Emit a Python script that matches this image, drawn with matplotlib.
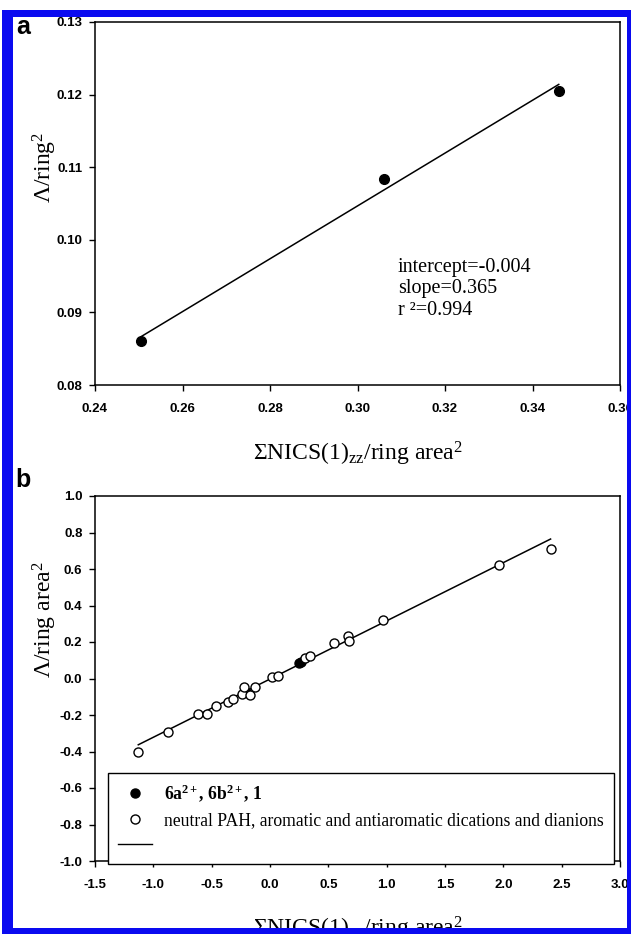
import matplotlib
matplotlib.use("Agg")
import matplotlib.pyplot as plt
import numpy as np
from matplotlib.patches import Rectangle
from matplotlib.lines import Line2D

W, H = 631, 934

# panel a data
a_x = [0.2505, 0.3060, 0.3460]
a_y = [0.0860, 0.1084, 0.1205]
a_xticks = [0.24, 0.26, 0.28, 0.30, 0.32, 0.34, 0.36]
a_yticks = [0.08, 0.09, 0.10, 0.11, 0.12, 0.13]
a_fit_text = ["intercept=-0.004", "slope=0.365", "r \u00b2=0.994"]

# panel b data
b_open_x = [-1.129, -0.872, -0.615, -0.543, -0.463, -0.358, -0.320, -0.238,
            -0.220, -0.169, -0.127, 0.018, 0.071, 0.300, 0.342, 0.548,
            0.671, 0.679, 0.971, 1.965, 2.405]
b_open_y = [-0.405, -0.295, -0.196, -0.193, -0.152, -0.129, -0.112, -0.085,
            -0.048, -0.090, -0.046, 0.009, 0.015, 0.111, 0.125, 0.193,
            0.233, 0.205, 0.321, 0.622, 0.708]
b_fill_x = [0.245, 0.262, -0.205]
b_fill_y = [0.086, 0.093, -0.072]
b_slope, b_intercept = 0.319, -0.003
b_xticks = [-1.5, -1.0, -0.5, 0.0, 0.5, 1.0, 1.5, 2.0, 2.5, 3.0]
b_yticks = [-1.0, -0.8, -0.6, -0.4, -0.2, 0.0, 0.2, 0.4, 0.6, 0.8, 1.0]
legend_labels = [r'$\mathbf{6a}^{\mathbf{2+}}$, $\mathbf{6b}^{\mathbf{2+}}$, 1',
                 'neutral PAH, aromatic and antiaromatic dications and dianions',
                 '']

plt.rcParams['font.family'] = ['Liberation Sans', 'DejaVu Sans']
plt.rcParams['axes.unicode_minus'] = False
plt.rcParams['mathtext.fontset'] = 'custom'
plt.rcParams['mathtext.rm'] = 'Liberation Serif'
plt.rcParams['mathtext.it'] = 'Liberation Serif:italic'
plt.rcParams['mathtext.bf'] = 'Liberation Serif:bold'
SERIF = ['Liberation Serif', 'DejaVu Serif']


def px_box(x0, y0, x1, y1):
    # pixel box (top-left origin) -> figure fraction [left, bottom, w, h]
    return [x0 / W, 1 - y1 / H, (x1 - x0) / W, (y1 - y0) / H]


def style_axes(ax):
    for sp in ax.spines.values():
        sp.set_linewidth(1.1)
    ax.tick_params(direction='out', length=4, width=1, labelsize=9.5)
    ax.tick_params(axis='x', pad=9)
    ax.tick_params(axis='y', pad=5)


fig = plt.figure(figsize=(W / 100, H / 100), dpi=100)

# ---- panel a ----
ax_a = fig.add_axes(px_box(95, 22, 620, 385))
slope_a, icpt_a = np.polyfit(a_x, a_y, 1)
xx = np.array([min(a_x), max(a_x)])
ax_a.plot(xx, icpt_a + slope_a * xx, color='k', lw=1.1, zorder=2)
ax_a.plot(a_x, a_y, 'o', color='k', ms=7, zorder=3)
ax_a.set_xlim(0.24, 0.36)
ax_a.set_ylim(0.08, 0.13)
ax_a.set_xticks(a_xticks, [f'{t:.2f}' for t in a_xticks], fontweight='bold')
ax_a.set_yticks(a_yticks, [f'{t:.2f}' for t in a_yticks], fontweight='bold')
style_axes(ax_a)
ax_a.set_xlabel('\u03a3NICS(1)$_{\\mathrm{zz}}$/ring area$^{2}$', family=SERIF, fontsize=17)
ax_a.xaxis.set_label_coords(0.5, -0.15)
ax_a.set_ylabel('\u039b/ring$^{2}$', family=SERIF, fontsize=17, va='center')
ax_a.yaxis.set_label_coords(-0.095, 0.6)
ax_a.text(0.577, 0.2645, '\n'.join(a_fit_text), transform=ax_a.transAxes,
          family=SERIF, fontsize=14.5, va='center', ha='left', linespacing=1.2)

# ---- panel b ----
ax_b = fig.add_axes(px_box(95, 496, 620, 861))
lx = np.array([min(b_open_x), max(b_open_x)])
ax_b.plot(lx, b_intercept + b_slope * lx, color='k', lw=1.1, zorder=2)
ax_b.plot(b_fill_x, b_fill_y, 'o', mfc='k', mec='k', ms=6.5, zorder=2.5)
ax_b.plot(b_open_x, b_open_y, 'o', mfc='white', mec='k', mew=1, ms=6.5, zorder=3)
ax_b.set_xlim(-1.5, 3.0)
ax_b.set_ylim(-1.0, 1.0)
ax_b.set_xticks(b_xticks, [f'{t:.1f}' for t in b_xticks], fontweight='bold')
ax_b.set_yticks(b_yticks, [f'{t:.1f}' for t in b_yticks], fontweight='bold')
style_axes(ax_b)
ax_b.set_xlabel('\u03a3NICS(1)$_{\\mathrm{zz}}$/ring area$^{2}$', family=SERIF, fontsize=17)
ax_b.xaxis.set_label_coords(0.5, -0.148)
ax_b.set_ylabel('\u039b/ring area$^{2}$', family=SERIF, fontsize=17, va='center')
ax_b.yaxis.set_label_coords(-0.095, 0.66)

handles = [Line2D([], [], ls='none', marker='o', mfc='k', mec='k', ms=6.5),
           Line2D([], [], ls='none', marker='o', mfc='white', mec='k', mew=1, ms=6.5),
           Line2D([], [], color='k', lw=1)]
leg = ax_b.legend(handles, legend_labels, loc='lower left',
                  bbox_to_anchor=(0.0248, -0.008, 0.964, 0.25), mode='expand',
                  borderaxespad=0, fancybox=False, edgecolor='k', framealpha=1,
                  prop={'family': SERIF, 'size': 12.7}, handlelength=1.95,
                  handletextpad=0.65, borderpad=0.55, labelspacing=0.45)
leg.get_frame().set_linewidth(1)
leg.get_texts()[0].set_fontweight('bold')

# panel letters
fig.text(23 / W, 1 - 27 / H, 'a', fontsize=18, fontweight='bold', ha='center', va='center')
fig.text(23 / W, 1 - 480 / H, 'b', fontsize=18, fontweight='bold', ha='center', va='center')

# blue frame around the figure
blue = '#0a0af0'
for x0, y0, x1, y1 in [(2, 10, 631, 17), (2, 10, 13, 934), (627, 10, 631, 934), (2, 928, 631, 934)]:
    b = px_box(x0, y0, x1, y1)
    fig.add_artist(Rectangle((b[0], b[1]), b[2], b[3], transform=fig.transFigure,
                             facecolor=blue, edgecolor='none', zorder=10))

fig.savefig('out.png', dpi=100)
